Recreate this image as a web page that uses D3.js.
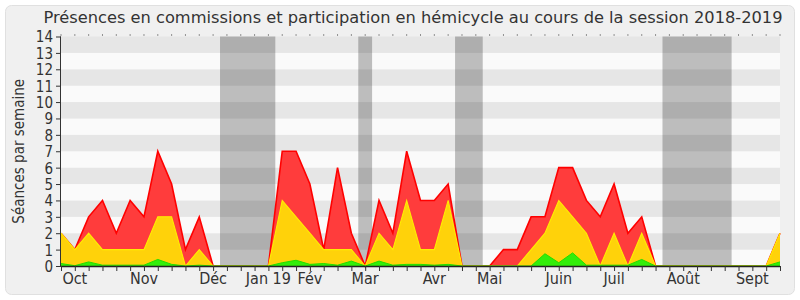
<!DOCTYPE html>
<html><head><meta charset="utf-8">
<script src="https://cdn.jsdelivr.net/npm/d3@7"></script>
<style>body{margin:0;background:#fff}svg{display:block}text{font-family:"DejaVu Sans Condensed","DejaVu Sans",sans-serif;fill:#333}</style>
</head><body><svg id="c" width="800" height="300"></svg>
<script>
const title = "Présences en commissions et participation en hémicycle au cours de la session 2018-2019";
const yLabel = "Séances par semaine";
const weeks = d3.range(53);
const totalValues = [2,1,3,4,2,4,3,7,5,1,3,0,0,0,0,0,7,7,5,1,6,2,0,4,2,7,4,4,5,0,0,0,1,1,3,3,6,6,4,3,5,2,3,0,0,0,0,0,0,0,0,0,2];
const hemicycleValues = [2,1,2,1,1,1,1,3,3,0,1,0,0,0,0,0,4,3,2,1,1,1,0,2,1,4,1,1,4,0,0,0,0,0,1,2,4,3,2,0,2,0,2,0,0,0,0,0,0,0,0,0,2];
const otherValues = [0.15,0.02,0.25,0.05,0.05,0.05,0.05,0.4,0.1,0,0.05,0,0,0,0,0,0.2,0.35,0.1,0.15,0.05,0.3,0,0.3,0.05,0.1,0.1,0.05,0.1,0,0,0,0,0,0,0.75,0.2,0.8,0.05,0.05,0.05,0.05,0.4,0,0,0,0,0,0,0,0,0,0.25];
const monthLabels = ["Oct","Nov","Déc","Jan 19","Fév","Mar","Avr","Mai","Juin","Juil","Août","Sept"];
const monthWeeks = [1,6,11,15,18,22,27,31,36,40,45,50];
const holidayStarts = [11.5,21.5,28.5,43.5];
const holidayEnds = [15.5,22.5,30.5,48.5];
const yTicks = d3.range(0,15);

const svg = d3.select("#c");
const L=61, R=780, T=36.5, B=266;
const x = d3.scaleLinear().domain([0,52]).range([L,R]);
const y = d3.scaleLinear().domain([0,14]).range([B,T]);

svg.append("rect").attr("x",5.5).attr("y",5.5).attr("width",789).attr("height",289).attr("rx",6)
  .attr("fill","#f0f0f0").attr("stroke","#e0e0e0");

svg.append("text").attr("x",413).attr("y",23).attr("text-anchor","middle")
  .style("font-size","16px").attr("textLength",739).attr("lengthAdjust","spacingAndGlyphs").text(title);

// stripes
svg.append("g").selectAll("rect").data(d3.range(14)).join("rect")
  .attr("x",L).attr("width",R-L).attr("y",d=>y(d+1)).attr("height",d=>y(d)-y(d+1))
  .attr("fill",d=>d%2===1?"#e6e6e6":"#fafafa");

// holidays
svg.append("g").selectAll("rect").data(holidayStarts).join("rect")
  .attr("x",(d)=>x(d)).attr("width",(d,i)=>x(holidayEnds[i])-x(d)).attr("y",T).attr("height",B-T)
  .attr("fill","#000").attr("fill-opacity",0.245);

function area(vals){return d3.area().x((d,i)=>x(i)).y0(y(0)).y1(d=>y(d))(vals);}
function line(vals){return d3.line().x((d,i)=>x(i)).y(d=>y(d))(vals);}
svg.append("path").attr("d",area(totalValues)).attr("fill","#ff3c3c");
svg.append("path").attr("d",line(totalValues)).attr("fill","none").attr("stroke","#ff0000").attr("stroke-width",1.6);
svg.append("path").attr("d",area(hemicycleValues)).attr("fill","#ffd20a");
svg.append("path").attr("d",line(hemicycleValues)).attr("fill","none").attr("stroke","#ffee00").attr("stroke-width",1.1);
svg.append("path").attr("d",area(otherValues)).attr("fill","#33ee0a");
svg.append("path").attr("d",line(otherValues)).attr("fill","none").attr("stroke","#22dd00").attr("stroke-width",1);

// axes
const yAxis = d3.axisLeft(y).tickValues(yTicks).tickSize(5).tickPadding(3).tickFormat(d3.format("d"));
const gy = svg.append("g").attr("transform",`translate(${L},0)`).call(yAxis);
gy.select(".domain").attr("stroke","#333").attr("d",`M-0.5,${B}V${T}`);
gy.selectAll(".tick line").attr("stroke","#333");
gy.selectAll("text").style("font-size","15px").attr("fill","#333").attr("dy","0.36em").style("font-family","DejaVu Sans Condensed");

const xAxis = d3.axisBottom(x).tickValues(weeks).tickSize(5).tickFormat("");
const gx = svg.append("g").attr("transform",`translate(0,${B})`).call(xAxis);
gx.select(".domain").attr("stroke","#222").attr("stroke-width",1.3).attr("d",`M${L},0.5H${R}`);
gx.selectAll(".tick line").attr("stroke","#333");

svg.append("g").selectAll("text").data(monthLabels).join("text")
  .attr("x",(d,i)=>x(monthWeeks[i])).attr("y",284).attr("text-anchor","middle")
  .style("font-size","16px").text(d=>d);

// top ticks
svg.append("g").selectAll("rect").data(weeks).join("rect")
  .attr("x",d=>x(d)-0.5).attr("y",T-2).attr("width",1).attr("height",1).attr("fill","#333");

svg.append("text").attr("transform",`translate(24,${(T+B)/2}) rotate(-90)`).attr("text-anchor","middle")
  .style("font-size","15px").text(yLabel);
</script></body></html>
